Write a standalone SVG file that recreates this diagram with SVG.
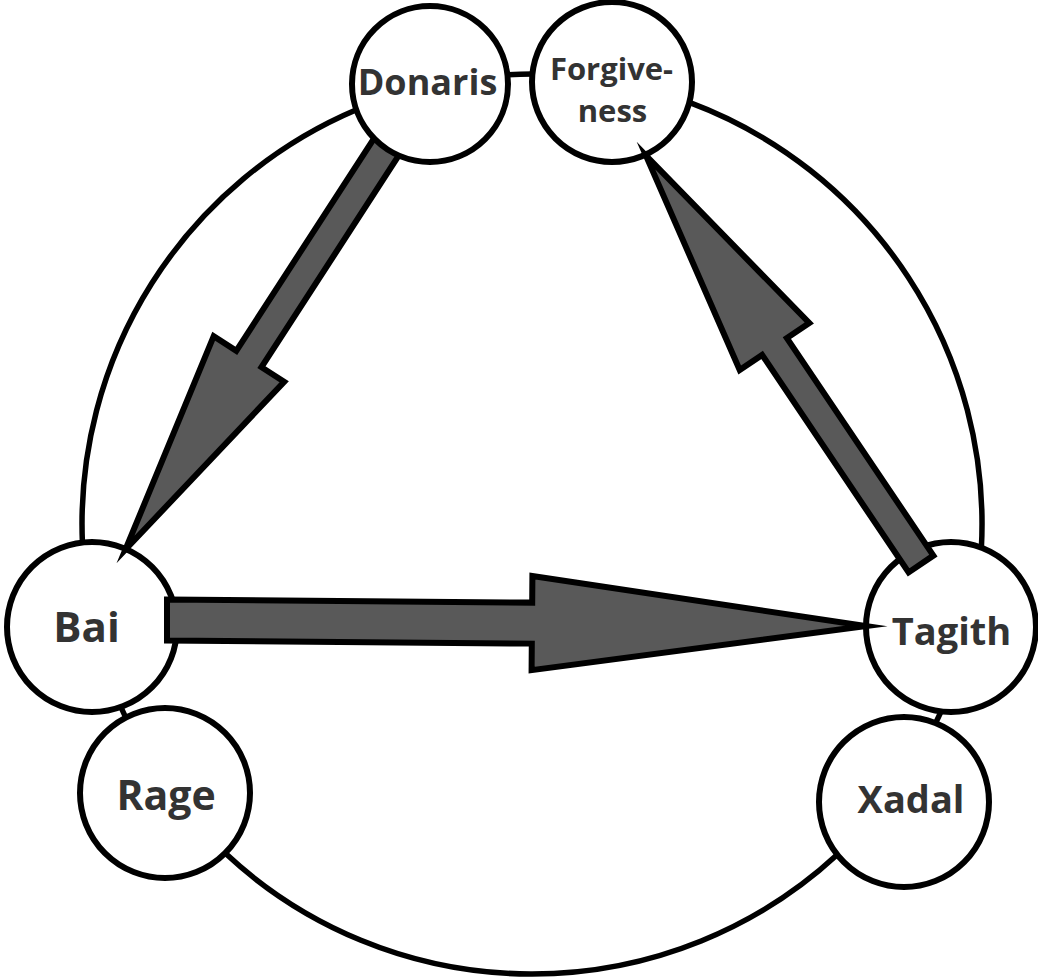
<svg xmlns="http://www.w3.org/2000/svg" width="1038" height="979" viewBox="0 0 1038 979">
<style>
.node circle{fill:#fff;stroke:#000;stroke-width:6}
.node text{font-family:"Open Sans","Noto Sans","Liberation Sans",sans-serif;font-weight:700;fill:#333;text-anchor:middle}
.arc{fill:none;stroke:#000;stroke-width:5.5}
.arrow{fill:#595959;stroke:#000;stroke-width:6;stroke-linejoin:miter;stroke-miterlimit:30}
</style>
<rect width="1038" height="979" fill="#fff"/>
<g id="node-bai" class="node"><circle cx="92" cy="627" r="85"/><text x="86.5" y="641.7" font-size="42">Bai</text></g>
<g id="node-rage" class="node"><circle cx="165" cy="793" r="85"/><text x="166" y="810" font-size="41">Rage</text></g>
<g id="node-tagith" class="node"><circle cx="951" cy="627" r="85"/><text x="951.5" y="645" font-size="38">Tagith</text></g>
<g id="node-xadal" class="node"><circle cx="904" cy="802" r="85"/><text x="911" y="813" font-size="38">Xadal</text></g>
<g id="node-forgiveness" class="node"><circle cx="612" cy="82" r="80"/><text x="611.5" y="80" font-size="31">Forgive-</text><text x="612.5" y="121.7" font-size="31">ness</text></g>
<g id="connectors">
<path class="arc" d="M507.4,74.7 A450,450 0 0 1 532.5,74.0"/>
<path class="arc" d="M689.3,102.4 A450,450 0 0 1 981.4,547.6"/>
<path class="arc" d="M941.1,711.4 A450,450 0 0 1 935.6,723.1"/>
<path class="arc" d="M837.4,854.5 A450,450 0 0 1 225.1,853.1"/>
<path class="arc" d="M125.8,717.6 A450,450 0 0 1 120.9,707.0"/>
<path class="arc" d="M82.4,542.5 A450,450 0 0 1 356.4,109.7"/>
<polygon class="arrow" points="385.4,120.8 236.3,350.8 213.7,336.2 125.5,549.5 284.2,381.8 261.5,367.2 410.6,137.2"/>
<polygon class="arrow" points="167,599.5 532.2,602.6 532.4,576.1 866,626 531.6,670.1 531.8,643.6 167,640.5"/>
<polygon class="arrow" points="933.4,555.6 786.9,338.1 809.3,323.0 646,155.7 739.7,370.0 762.1,354.9 908.6,572.4"/>
</g>
<g id="node-donaris" class="node"><circle cx="430" cy="84" r="78"/><text x="427.5" y="95" font-size="36">Donaris</text></g>
</svg>
